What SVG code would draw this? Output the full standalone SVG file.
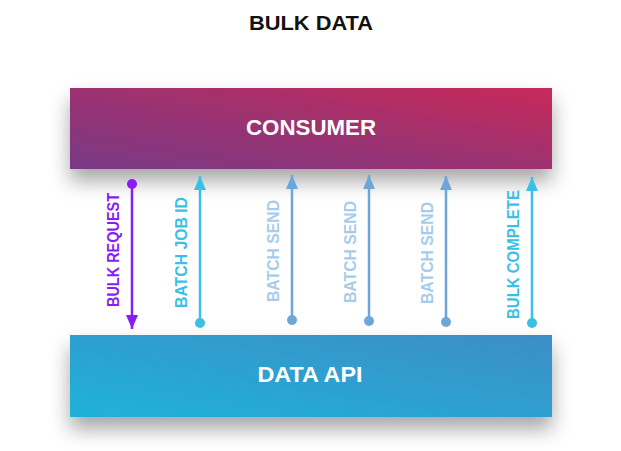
<svg xmlns="http://www.w3.org/2000/svg" width="621" height="451" viewBox="0 0 621 451">
<defs>
<linearGradient id="gCons" x1="0" y1="1" x2="1" y2="0">
<stop offset="0" stop-color="#793A86"/>
<stop offset="0.5" stop-color="#9C3170"/>
<stop offset="1" stop-color="#C82A5A"/>
</linearGradient>
<linearGradient id="gApi" x1="0" y1="1" x2="1" y2="0">
<stop offset="0" stop-color="#1EB2D9"/>
<stop offset="1" stop-color="#3E8DC7"/>
</linearGradient>
<filter id="sh" x="-20%" y="-30%" width="140%" height="190%">
<feDropShadow dx="0" dy="12" stdDeviation="10" flood-color="#000" flood-opacity="0.35"/>
</filter>
<marker id="mPurple" viewBox="0 0 14 12" refX="14" refY="6" markerWidth="14" markerHeight="12" markerUnits="userSpaceOnUse" orient="auto"><path d="M0,0 L14,6 L0,12 z" fill="#8A1DF5"/></marker>
<marker id="mCyan" viewBox="0 0 14 12" refX="14" refY="6" markerWidth="14" markerHeight="12" markerUnits="userSpaceOnUse" orient="auto"><path d="M0,0 L14,6 L0,12 z" fill="#3ABFE6"/></marker>
<marker id="mBlue" viewBox="0 0 14 12" refX="14" refY="6" markerWidth="14" markerHeight="12" markerUnits="userSpaceOnUse" orient="auto"><path d="M0,0 L14,6 L0,12 z" fill="#6EA6DA"/></marker>
</defs>
<style>
text{font-family:"Liberation Sans",Arial,sans-serif;font-weight:bold;}
.box{font-size:22px;fill:#fff;text-anchor:middle;}
.lbl{font-size:16.5px;text-anchor:middle;}
.line{stroke-width:2.5;fill:none;}
</style>
<rect width="621" height="451" fill="#fff"/>
<text x="311" y="30" font-size="21" fill="#111" text-anchor="middle" textLength="124" lengthAdjust="spacingAndGlyphs">BULK DATA</text>
<g id="consumer">
<rect x="70" y="88" width="482" height="81" fill="url(#gCons)" filter="url(#sh)"/>
<text class="box" x="311" y="135" textLength="130" lengthAdjust="spacingAndGlyphs">CONSUMER</text>
</g>
<g id="data-api">
<rect x="70" y="335" width="482" height="82" fill="url(#gApi)" filter="url(#sh)"/>
<text class="box" x="310" y="382" textLength="105" lengthAdjust="spacingAndGlyphs">DATA API</text>
</g>
<g id="connectors">
<g id="bulk-request">
<line class="line" x1="132" y1="184" x2="132" y2="329" stroke="#8A1DF5" marker-end="url(#mPurple)"/>
<circle cx="132" cy="184" r="5" fill="#8A1DF5"/>
<text class="lbl" transform="translate(119,250) rotate(-90)" fill="#8A1DF5" textLength="114" lengthAdjust="spacingAndGlyphs">BULK REQUEST</text>
</g>
<g id="batch-job-id">
<line class="line" x1="200" y1="323" x2="200" y2="176" stroke="#3ABFE6" marker-end="url(#mCyan)"/>
<circle cx="200" cy="323" r="5" fill="#3ABFE6"/>
<text class="lbl" transform="translate(187,252.5) rotate(-90)" fill="#3ABFE6" textLength="111" lengthAdjust="spacingAndGlyphs">BATCH JOB ID</text>
</g>
<g id="batch-send-1">
<line class="line" x1="292" y1="320" x2="292" y2="175" stroke="#6EA6DA" marker-end="url(#mBlue)"/>
<circle cx="292" cy="320" r="5" fill="#6EA6DA"/>
<text class="lbl" transform="translate(279,251) rotate(-90)" fill="#A9CBEB" textLength="102" lengthAdjust="spacingAndGlyphs">BATCH SEND</text>
</g>
<g id="batch-send-2">
<line class="line" x1="369" y1="321" x2="369" y2="175" stroke="#6EA6DA" marker-end="url(#mBlue)"/>
<circle cx="369" cy="321" r="5" fill="#6EA6DA"/>
<text class="lbl" transform="translate(356,252) rotate(-90)" fill="#A9CBEB" textLength="102" lengthAdjust="spacingAndGlyphs">BATCH SEND</text>
</g>
<g id="batch-send-3">
<line class="line" x1="446" y1="322" x2="446" y2="176" stroke="#6EA6DA" marker-end="url(#mBlue)"/>
<circle cx="446" cy="322" r="5" fill="#6EA6DA"/>
<text class="lbl" transform="translate(433,253) rotate(-90)" fill="#A9CBEB" textLength="102" lengthAdjust="spacingAndGlyphs">BATCH SEND</text>
</g>
<g id="bulk-complete">
<line class="line" x1="532" y1="323" x2="532" y2="177" stroke="#3ABFE6" marker-end="url(#mCyan)"/>
<circle cx="532" cy="323" r="5" fill="#3ABFE6"/>
<text class="lbl" transform="translate(519,254.5) rotate(-90)" fill="#3ABFE6" textLength="129" lengthAdjust="spacingAndGlyphs">BULK COMPLETE</text>
</g>
</g>
</svg>
